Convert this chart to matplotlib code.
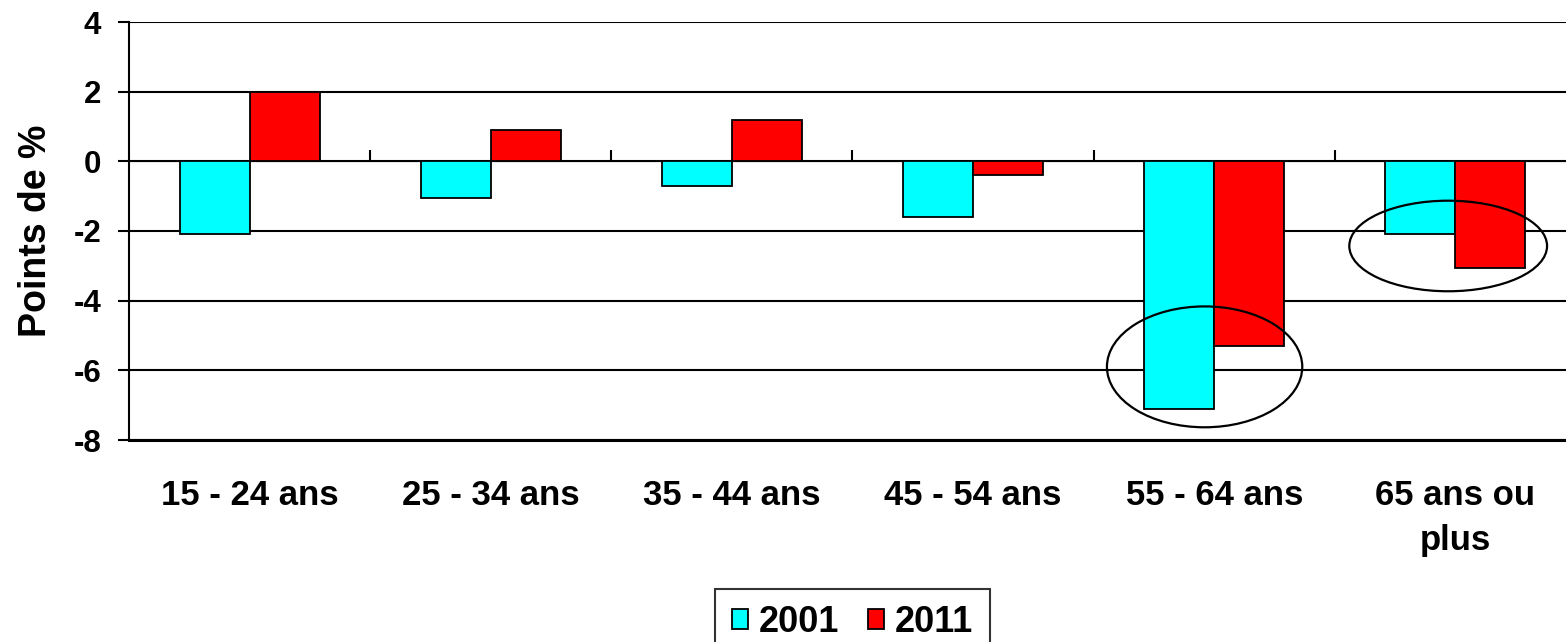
import matplotlib

matplotlib.use("Agg")
import matplotlib.pyplot as plt
from matplotlib.patches import Ellipse
import numpy as np

# Data
categories = ["15 - 24 ans", "25 - 34 ans", "35 - 44 ans", "45 - 54 ans",
              "55 - 64 ans", "65 ans ou\nplus"]
years = ["2001", "2011"]
values_2001 = [-2.1, -1.05, -0.7, -1.6, -7.1, -2.1]
values_2011 = [2.0, 0.9, 1.2, -0.4, -5.3, -3.05]
y_ticks = [4, 2, 0, -2, -4, -6, -8]

# Highlighted groups (x centre, y centre, width, height)
highlights = [(3.96, -5.9, 0.81, 3.47), (4.97, -2.43, 0.82, 2.6)]

plt.rcParams["font.family"] = ["Liberation Sans", "DejaVu Sans"]
plt.rcParams["font.weight"] = "bold"

fig = plt.figure(figsize=(15.66, 6.42), dpi=100)
ax = fig.add_axes([129 / 1566, 1 - 440 / 642, 1447 / 1566, 418 / 642])

x = np.arange(len(categories))
width = 0.29
ax.bar(x - width, values_2001, width, align="edge", color="#00FFFF",
       edgecolor="black", linewidth=1.3, label=years[0], zorder=3)
ax.bar(x, values_2011, width, align="edge", color="#FF0000",
       edgecolor="black", linewidth=1.3, label=years[1], zorder=3)

for cx, cy, w, h in highlights:
    ax.add_patch(Ellipse((cx, cy), w, h, fill=False, edgecolor="black",
                         linewidth=1.6, zorder=5))

ax.set_xlim(-0.5, len(categories) - 0.5)
ax.set_ylim(-8, 4)
ax.set_yticks(y_ticks)
ax.set_yticklabels([str(t) for t in y_ticks], fontsize=22.5, fontweight="bold")
ax.yaxis.grid(True, color="black", linewidth=1.5, zorder=0)
ax.set_axisbelow(True)
ax.tick_params(axis="y", length=8, width=1.5, pad=12)

ax.set_xticks(x)
ax.set_xticklabels(categories, fontsize=25, fontweight="bold",
                   linespacing=1.45)
ax.tick_params(axis="x", length=0, pad=28)

for side in ["top", "right"]:
    ax.spines[side].set_visible(False)
ax.spines["left"].set_linewidth(1.5)
ax.spines["bottom"].set_linewidth(2.2)

# category axis crossing at zero with boundary tick marks
zero_pos = (0 - (-8)) / 12
sec = ax.secondary_xaxis(zero_pos)
sec.set_xticks(np.arange(0.5, len(categories) - 0.5, 1.0))
sec.set_xticklabels([])
sec.spines["bottom"].set_linewidth(1.5)
sec.tick_params(axis="x", direction="out", length=8, width=1.5)

ax.set_ylabel("Points de %", fontsize=27, fontweight="bold", labelpad=14)

leg = ax.legend(loc="upper center", bbox_to_anchor=(0.5, -0.356), ncol=2,
                fontsize=26, frameon=True, fancybox=False, edgecolor="black",
                handlelength=0.45, handleheight=0.45, handletextpad=0.3,
                columnspacing=0.8, borderpad=0.45, borderaxespad=0)
leg.get_frame().set_linewidth(1.5)
for t in leg.get_texts():
    t.set_fontweight("bold")

fig.savefig("out.png", dpi=100)
